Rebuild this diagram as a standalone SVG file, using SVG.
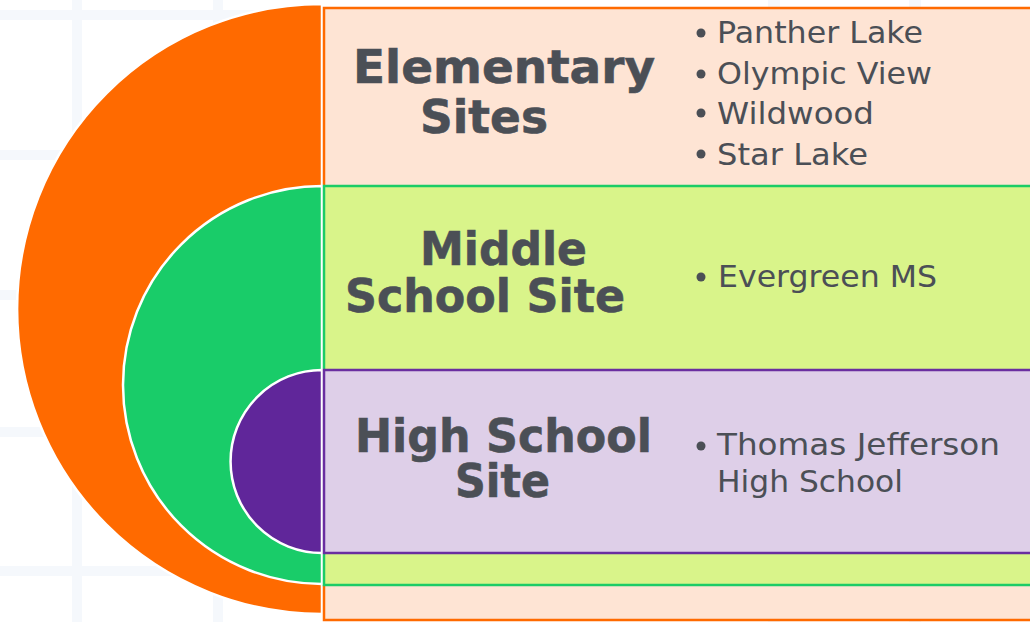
<svg xmlns="http://www.w3.org/2000/svg" width="1030" height="622" viewBox="0 0 1030 622">
<style>
.grid{fill:#f5f8fc}
.half{stroke:#ffffff;stroke-width:2.5}
.title{font-family:"DejaVu Sans","Verdana",sans-serif;font-weight:bold;font-size:46px;fill:#4b4f56;stroke:#4b4f56;stroke-width:0.6}
.item{font-family:"DejaVu Sans","Verdana",sans-serif;font-size:30px;fill:#4b4f56}
.bullet{fill:#4b4f56}
</style>
<rect width="1030" height="622" fill="#ffffff"/>
<g id="grid">
<rect class="grid" x="72" y="0" width="10" height="622"/>
<rect class="grid" x="213" y="0" width="10" height="622"/>
<rect class="grid" x="768" y="0" width="12" height="622"/>
<rect class="grid" x="909" y="0" width="12" height="622"/>
<rect class="grid" x="0" y="10" width="1030" height="10"/>
<rect class="grid" x="0" y="150" width="1030" height="10"/>
<rect class="grid" x="0" y="290" width="1030" height="10"/>
<rect class="grid" x="0" y="427" width="1030" height="10"/>
<rect class="grid" x="0" y="566" width="1030" height="10"/>
</g>
<g id="elementary">
<path class="half" d="M322,4 A305,305 0 0 0 322,614 Z" fill="#ff6a00"/>
<rect x="324" y="8" width="712" height="612" fill="#fee3d3" fill-opacity="0.97" stroke="#ff6a00" stroke-width="2.5"/>
</g>
<g id="middle">
<path class="half" d="M322,186 A199,199 0 0 0 322,584 Z" fill="#19cc69"/>
<rect x="324" y="186" width="712" height="399" fill="#d9f48a" stroke="#1ccc66" stroke-width="2.5"/>
</g>
<g id="high">
<path class="half" d="M322,370 A91.5,91.5 0 0 0 322,553 Z" fill="#60269a"/>
<rect x="324" y="370" width="712" height="183" fill="#decfe8" stroke="#6a2ea0" stroke-width="2.5"/>
</g>
<g id="labels">
<text class="title"><tspan x="353" y="83" textLength="302" lengthAdjust="spacingAndGlyphs">Elementary</tspan><tspan x="420" y="133" textLength="128" lengthAdjust="spacingAndGlyphs">Sites</tspan></text>
<text class="title"><tspan x="420" y="265" textLength="167" lengthAdjust="spacingAndGlyphs">Middle</tspan><tspan x="345" y="312" textLength="280" lengthAdjust="spacingAndGlyphs">School Site</tspan></text>
<text class="title"><tspan x="355" y="452" textLength="297" lengthAdjust="spacingAndGlyphs">High School</tspan><tspan x="455" y="497" textLength="95" lengthAdjust="spacingAndGlyphs">Site</tspan></text>
</g>
<g id="items">
<circle class="bullet" cx="701" cy="33" r="4.5"/>
<circle class="bullet" cx="701" cy="74" r="4.5"/>
<circle class="bullet" cx="701" cy="113" r="4.5"/>
<circle class="bullet" cx="701" cy="154" r="4.5"/>
<circle class="bullet" cx="701" cy="277" r="4.5"/>
<circle class="bullet" cx="701" cy="446" r="4.5"/>
<text class="item" x="717" y="43" textLength="206" lengthAdjust="spacingAndGlyphs">Panther Lake</text>
<text class="item" x="717" y="84" textLength="215" lengthAdjust="spacingAndGlyphs">Olympic View</text>
<text class="item" x="717" y="124" textLength="157" lengthAdjust="spacingAndGlyphs">Wildwood</text>
<text class="item" x="717" y="165" textLength="151" lengthAdjust="spacingAndGlyphs">Star Lake</text>
<text class="item" x="718" y="287" textLength="219" lengthAdjust="spacingAndGlyphs">Evergreen MS</text>
<text class="item"><tspan x="717" y="455" textLength="283" lengthAdjust="spacingAndGlyphs">Thomas Jefferson</tspan><tspan x="717" y="492" textLength="186" lengthAdjust="spacingAndGlyphs">High School</tspan></text>
</g>
</svg>
